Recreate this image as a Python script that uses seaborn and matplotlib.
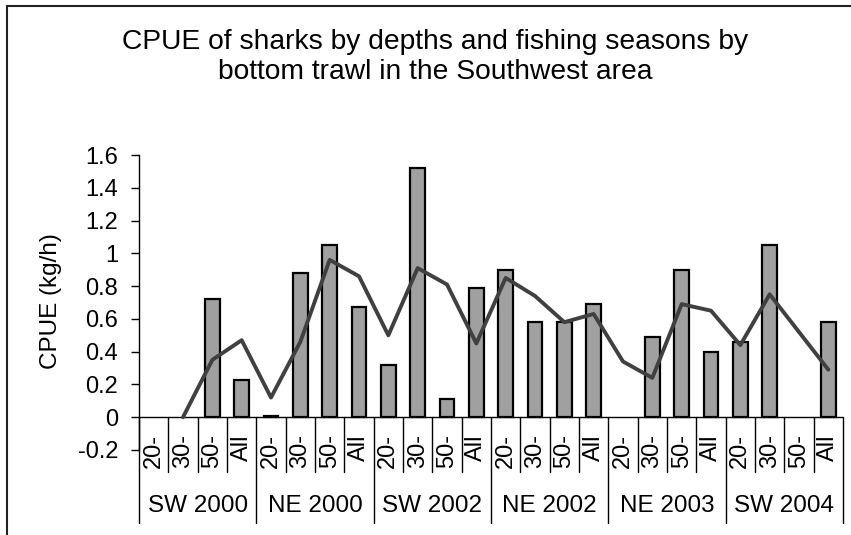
import numpy as np
import pandas as pd
import seaborn as sns
import matplotlib
matplotlib.use("Agg")
import matplotlib.pyplot as plt
from matplotlib.lines import Line2D

# Fishing seasons (groups) and depth strata within each season
seasons = ["SW 2000", "NE 2000", "SW 2002", "NE 2002", "NE 2003", "SW 2004"]
depths = ["20-", "30-", "50-", "All"]

# CPUE (kg/h) per season and depth stratum (bars); None = no catch record
bar_cpue = [
    None, None, 0.72, 0.23,
    0.01, 0.88, 1.05, 0.67,
    0.32, 1.52, 0.11, 0.79,
    0.90, 0.58, 0.58, 0.69,
    None, 0.49, 0.90, 0.40,
    0.46, 1.05, None, 0.58,
]

# Second CPUE series drawn as a line; None = missing value
line_cpue = [
    None, 0.00, 0.35, 0.47,
    0.12, 0.46, 0.96, 0.86,
    0.50, 0.91, 0.81, 0.45,
    0.85, 0.74, 0.58, 0.63,
    0.34, 0.24, 0.69, 0.65,
    0.44, 0.75, None, 0.29,
]

y_ticks = [-0.2, 0, 0.2, 0.4, 0.6, 0.8, 1, 1.2, 1.4, 1.6]
y_tick_labels = ["-0.2", "0", "0.2", "0.4", "0.6", "0.8", "1", "1.2", "1.4", "1.6"]

n = len(seasons) * len(depths)
df = pd.DataFrame({
    "pos": list(range(n)),
    "season": np.repeat(seasons, len(depths)),
    "depth": depths * len(seasons),
    "bar": pd.array(bar_cpue, dtype="Float64").astype(float),
    "line": pd.array(line_cpue, dtype="Float64").astype(float),
})

sns.set_theme(style="white")
plt.rcParams["font.family"] = ["Liberation Sans", "DejaVu Sans"]

W, H = 851, 535
fig = plt.figure(figsize=(W / 100, H / 100), dpi=100)
ax = fig.add_axes([139 / W, 1 - 450 / H, (843 - 139) / W, (450 - 155) / H])

sns.barplot(data=df.dropna(subset=["bar"]), x="pos", y="bar", order=list(range(n)),
            color="#a0a0a0", saturation=1, width=0.5, edgecolor="black",
            linewidth=1.6, ax=ax, errorbar=None)
for p in ax.patches:
    p.set_facecolor("#a0a0a0")

line_df = df.dropna(subset=["line"])
sns.lineplot(data=line_df, x="pos", y="line", color="#404040", linewidth=2.8,
             ax=ax, sort=True)

ax.set_xlim(-0.5, n - 0.5)
ax.set_ylim(-0.2, 1.6)
ax.set_yticks(y_ticks)
ax.set_yticklabels(y_tick_labels, fontsize=17)
ax.tick_params(axis="y", left=True, length=6, width=1, pad=9, color="black",
               labelcolor="black")
ax.set_xticks([])
ax.set_xlabel("")
ax.set_ylabel("")
for s in ["top", "right", "bottom"]:
    ax.spines[s].set_visible(False)
ax.spines["left"].set_color("black")
ax.spines["left"].set_linewidth(1)
ax.grid(False)

# Category axis at zero with two-level labels
ax.axhline(0, color="black", linewidth=1, zorder=1)
u = 1.8 / 295  # data units per pixel
low1 = -55 * u
low2 = -106 * u
for i in range(n + 1):
    x = i - 0.5
    if i % len(depths) == 0:
        ax.plot([x, x], [0, low2], color="black", linewidth=1, clip_on=False)
    else:
        ax.plot([x, x], [0, low1], color="black", linewidth=1, clip_on=False)

for i, d in enumerate(df["depth"]):
    ax.text(i, -17 * u, d, rotation=90, ha="center", va="top", fontsize=17,
            color="black", clip_on=False)

for g, name in enumerate(seasons):
    ax.text(g * len(depths) + 1.5, -89 * u, name, ha="center", va="center",
            fontsize=17.5, color="black", clip_on=False)

fig.text(50.5 / W, 1 - 301 / H, "CPUE (kg/h)", rotation=90, ha="center",
         va="center", fontsize=17.5, color="black")

fig.text(435 / W, 1 - 29 / H,
         "CPUE of sharks by depths and fishing seasons by\nbottom trawl in the Southwest area",
         ha="center", va="top", fontsize=20.3, color="black", linespacing=1.22)

# Chart area frame
fig.add_artist(Line2D([7 / W, 7 / W], [0, 1 - 6 / H], color="#222222", linewidth=1.5))
fig.add_artist(Line2D([7 / W, 1], [1 - 6 / H, 1 - 6 / H], color="#222222", linewidth=1.5))

fig.savefig("out.png", dpi=100)
